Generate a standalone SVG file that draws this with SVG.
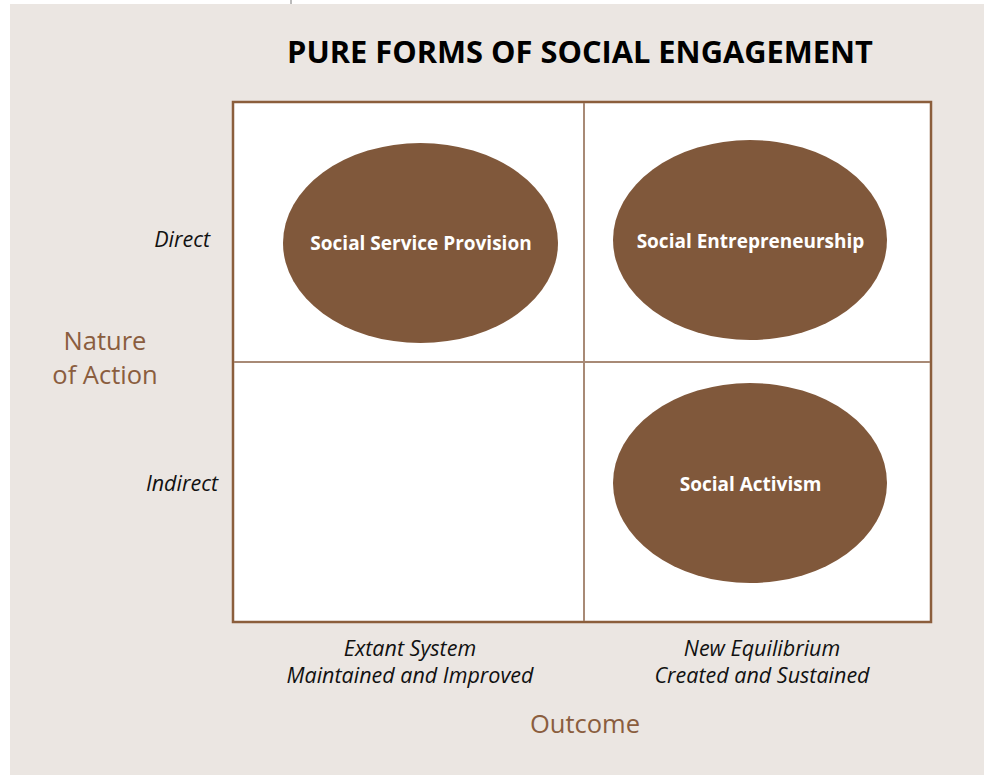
<svg xmlns="http://www.w3.org/2000/svg" width="984" height="775" viewBox="0 0 984 775">
<style>
.bg{fill:#ebe6e2}
.node ellipse{fill:#80583b}
.node text{fill:#ffffff;font-family:"Open Sans","Noto Sans",sans-serif;font-weight:700;font-size:19px;text-anchor:middle}
.lbl{font-family:"Open Sans","Noto Sans",sans-serif;font-style:italic;font-size:21.5px;fill:#111}
.axis{font-family:"Open Sans","Noto Sans",sans-serif;font-size:25.5px;fill:#8a5d3e;text-anchor:middle}
.title{font-family:"Open Sans","Noto Sans",sans-serif;font-weight:700;font-size:30.8px;fill:#000;text-anchor:middle}
.grid{stroke:#a88a76;stroke-width:2}
</style>
<rect x="0" y="0" width="984" height="775" fill="#ffffff"/>
<rect class="bg" x="10" y="4" width="974" height="771"/>
<line x1="291" y1="0" x2="291" y2="4" stroke="#777" stroke-width="1"/>
<text class="title" x="580" y="63">PURE FORMS OF SOCIAL ENGAGEMENT</text>
<g id="matrix">
<rect x="233" y="102" width="698" height="520" fill="#ffffff" stroke="#8b5e3c" stroke-width="2.5"/>
</g>
<g id="connectors">
<line class="grid" x1="584" y1="103" x2="584" y2="621"/>
<line class="grid" x1="234" y1="362" x2="930" y2="362"/>
</g>
<g id="node-ssp" class="node">
<ellipse cx="420.5" cy="243" rx="137.5" ry="100"/>
<text x="421" y="249.5">Social Service Provision</text>
</g>
<g id="node-se" class="node">
<ellipse cx="750" cy="240" rx="137" ry="100"/>
<text x="750.5" y="248">Social Entrepreneurship</text>
</g>
<g id="node-sa" class="node">
<ellipse cx="750" cy="483" rx="137" ry="100"/>
<text x="750.5" y="491">Social Activism</text>
</g>
<text class="lbl" x="210" y="247" text-anchor="end">Direct</text>
<text class="lbl" x="218" y="491" text-anchor="end">Indirect</text>
<text class="axis" x="105" y="350">Nature</text>
<text class="axis" x="105" y="384">of Action</text>
<text class="lbl" x="410" y="656" text-anchor="middle">Extant System</text>
<text class="lbl" x="410" y="683" text-anchor="middle">Maintained and Improved</text>
<text class="lbl" x="762" y="656" text-anchor="middle">New Equilibrium</text>
<text class="lbl" x="762" y="683" text-anchor="middle">Created and Sustained</text>
<text class="axis" x="585" y="733">Outcome</text>
</svg>
